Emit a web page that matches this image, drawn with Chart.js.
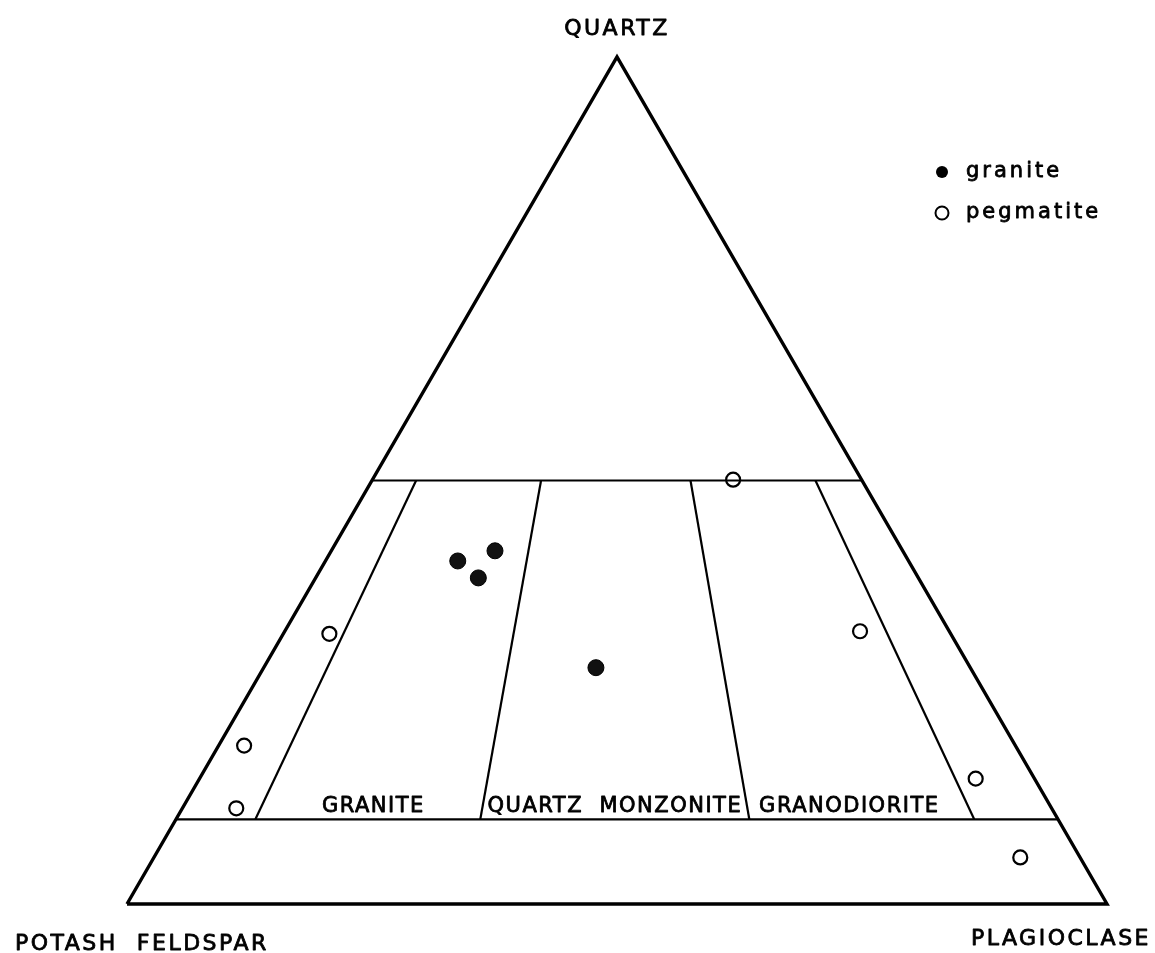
<!DOCTYPE html>
<html>
<head>
<meta charset="utf-8">
<title>Quartz - Potash feldspar - Plagioclase</title>
<script src="https://cdn.jsdelivr.net/npm/chart.js@4.4.0/dist/chart.umd.min.js"></script>
<style>
  html, body { margin: 0; padding: 0; background: #fff; }
  canvas { display: block; }
</style>
</head>
<body>
<canvas id="qapChart" width="1155" height="953"></canvas>
<script>
// Modal compositions (percent): Q = quartz, A = potash feldspar, P = plagioclase
const graniteQ = [40.5, 41.7, 38.5, 27.9];
const graniteA = [46.0, 41.6, 44.9, 38.2];
const graniteP = [13.5, 16.7, 16.6, 33.9];

const pegmatiteQ = [50.1, 31.9, 32.2, 18.7, 11.3, 14.8, 5.5];
const pegmatiteA = [13.1, 63.4, 9.1, 78.7, 83.2, 6.0, 6.1];
const pegmatiteP = [36.8, 4.7, 58.7, 2.6, 5.5, 79.2, 88.4];

// Field boundaries: quartz limits and plagioclase share of total feldspar
const quartzLimits = [50, 10];
const plagRatios = [9, 34.5, 65, 90.5];
const fieldNames = ['GRANITE', 'QUARTZ  MONZONITE', 'GRANODIORITE'];

const cornerNames = ['QUARTZ', 'POTASH  FELDSPAR', 'PLAGIOCLASE'];
const seriesNames = ['granite', 'pegmatite'];

// ternary -> cartesian (A at left, P at right, Q on top)
function toXY(q, a, p) {
    const s = q + a + p;
    q = q / s * 100; p = p / s * 100;
    return { x: p + q / 2, y: q };
}

const triangle = [toXY(0, 100, 0), toXY(0, 0, 100), toXY(100, 0, 0), toXY(0, 100, 0)];

const guideSets = [];
quartzLimits.forEach(q => {
    guideSets.push([toXY(q, 100 - q, 0), toXY(q, 0, 100 - q)]);
});
plagRatios.forEach(r => {
    const top = quartzLimits[0], bottom = quartzLimits[1];
    guideSets.push([
        toXY(top, (100 - top) * (1 - r / 100), (100 - top) * r / 100),
        toXY(bottom, (100 - bottom) * (1 - r / 100), (100 - bottom) * r / 100)
    ]);
});

const granitePts = graniteQ.map((q, i) => toXY(q, graniteA[i], graniteP[i]));
const pegmatitePts = pegmatiteQ.map((q, i) => toXY(q, pegmatiteA[i], pegmatiteP[i]));

const lineStyle = {
    showLine: true,
    pointRadius: 0,
    borderColor: '#000',
    borderWidth: 2.2,
    fill: false,
    clip: false
};

const datasets = [
    Object.assign({ data: triangle }, lineStyle, { borderWidth: 3.4, borderJoinStyle: 'miter' }),
    ...guideSets.map(seg => Object.assign({ data: seg }, lineStyle)),
    {
        label: seriesNames[0],
        data: granitePts,
        pointRadius: 8,
        pointBackgroundColor: '#111',
        pointBorderColor: '#000',
        pointBorderWidth: 1,
        clip: false
    },
    {
        label: seriesNames[1],
        data: pegmatitePts,
        pointRadius: 7,
        pointBackgroundColor: '#fff',
        pointBorderColor: '#000',
        pointBorderWidth: 2.2,
        clip: false
    }
];

const FONT = '"DejaVu Sans", sans-serif';

// lettering: regular face thickened with a thin outline
function letter(ctx, text, x, y) {
    ctx.fillText(text, x, y);
    ctx.strokeText(text, x, y);
}

// Vertex names, field names and the key
const labelsPlugin = {
    id: 'qapLabels',
    afterDraw(chart) {
        const ctx = chart.ctx;
        const xs = chart.scales.x;
        ctx.save();
        ctx.fillStyle = '#000';
        ctx.strokeStyle = '#000';
        ctx.lineWidth = 0.8;
        ctx.lineJoin = 'round';
        ctx.textBaseline = 'alphabetic';

        ctx.font = '22px ' + FONT;
        ctx.letterSpacing = '2.5px';
        ctx.textAlign = 'center';
        letter(ctx, cornerNames[0], xs.getPixelForValue(50), 35);
        ctx.textAlign = 'left';
        letter(ctx, cornerNames[1], 15, 950);
        ctx.textAlign = 'right';
        letter(ctx, cornerNames[2], 1151, 945);

        // field names sit between the ratio lines, just above the lower quartz limit
        ctx.font = '21px ' + FONT;
        ctx.letterSpacing = '1.5px';
        ctx.textAlign = 'center';
        const q = 12;
        const edges = plagRatios.map(r => xs.getPixelForValue(toXY(q, (100 - q) * (1 - r / 100), (100 - q) * r / 100).x));
        fieldNames.forEach((name, i) => {
            letter(ctx, name, (edges[i] + edges[i + 1]) / 2 - (i === 2 ? 7 : 0), 812);
        });

        // key
        const kx = 942, ky = [172, 213];
        ctx.font = '21px ' + FONT;
        ctx.letterSpacing = '3px';
        ctx.textAlign = 'left';
        ctx.textBaseline = 'middle';
        ky.forEach((y, i) => {
            ctx.beginPath();
            ctx.arc(kx, y, i === 0 ? 6 : 6.5, 0, Math.PI * 2);
            if (i === 0) { ctx.fill(); }
            else { ctx.save(); ctx.lineWidth = 2; ctx.stroke(); ctx.restore(); }
            letter(ctx, seriesNames[i], kx + 24, y);
        });
        ctx.restore();
    }
};

new Chart(document.getElementById('qapChart').getContext('2d'), {
    type: 'scatter',
    data: { datasets: datasets },
    options: {
        responsive: false,
        animation: false,
        events: [],
        layout: { padding: { left: 127, right: 48, top: 57, bottom: 49 } },
        plugins: {
            legend: { display: false },
            tooltip: { enabled: false }
        },
        scales: {
            x: { type: 'linear', min: 0, max: 100, display: false },
            y: { type: 'linear', min: 0, max: 100, display: false }
        }
    },
    plugins: [labelsPlugin]
});
</script>
</body>
</html>
